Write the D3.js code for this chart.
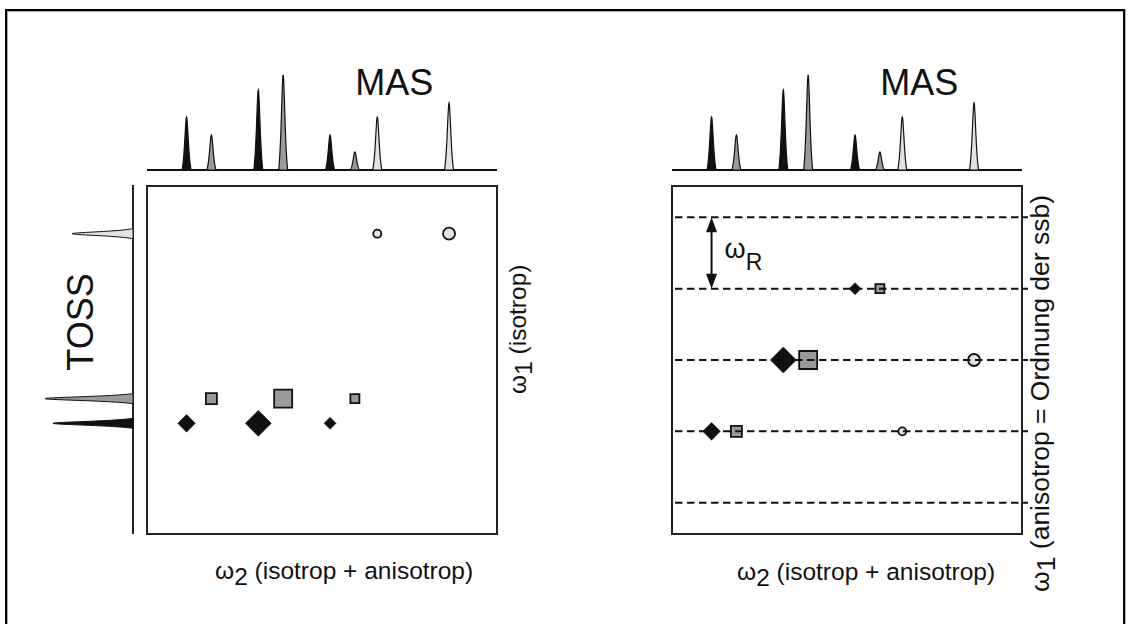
<!DOCTYPE html>
<html>
<head>
<meta charset="utf-8">
<script src="https://cdn.jsdelivr.net/npm/d3@7"></script>
<style>
  body { margin: 0; background: #fff; }
  text { font-family: "Liberation Sans", Arial, sans-serif; fill: #111; }
</style>
</head>
<body>
<svg id="vis" width="1130" height="624"></svg>
<script>
// sites: A (black diamond), B (grey square), C (light circle)
var sites = ["A", "B", "C"];
var isoShift = [31.8, 38.9, 86.3];        // isotropic shift, omega units
var spinRate = 20.5;                       // omega_R, same units
var tossIntensity = [80, 88, 61];          // TOSS (isotropic only) spectrum

// MAS spectrum: centre band + spinning sidebands
var peakSite = ["A", "A", "A", "B", "B", "B", "C", "C"];
var peakOrder = [-1, 0, 1, -1, 0, 1, -1, 0];
var masIntensity = [53, 80, 35, 35, 95, 18, 53, 67];

var ssbOrders = [-2, -1, 0, 1, 2];

var siteStyle = {
    A: { shape: "diamond", fill: "#111", rRange: [6, 13] },
    B: { shape: "square", fill: "#9a9a9a", rRange: [4.5, 9] },
    C: { shape: "circle", fill: "#e2e2e2", rRange: [4, 6] }
};

var peaks = masIntensity.map(function (v, i) {
    var s = sites.indexOf(peakSite[i]);
    return { site: peakSite[i], order: peakOrder[i], value: v, pos: isoShift[s] + peakOrder[i] * spinRate };
});

var svg = d3.select("#vis");

// outer frame
svg.append("rect")
    .attr("x", 7).attr("y", 11).attr("width", 1118).attr("height", 640)
    .attr("fill", "none").attr("stroke", "#aaa").attr("stroke-width", 2);
svg.append("rect")
    .attr("x", 6).attr("y", 10).attr("width", 1118).attr("height", 640)
    .attr("fill", "none").attr("stroke", "#000").attr("stroke-width", 2);

// marker size per site, from its own intensities
sites.forEach(function (s) {
    var vals = peaks.filter(function (p) { return p.site === s; }).map(function (p) { return p.value; });
    siteStyle[s].r = d3.scaleLinear().domain(d3.extent(vals)).range(siteStyle[s].rRange);
});

function markerPath(shape, r) {
    if (shape === "diamond") return "M0," + -r + "L" + r + ",0L0," + r + "L" + -r + ",0Z";
    if (shape === "square") return "M" + -r + "," + -r + "H" + r + "V" + r + "H" + -r + "Z";
    return d3.symbol(d3.symbolCircle, Math.PI * r * r)();
}

// narrow spike with slightly concave flanks, sampled across its base
function spikePoints(center, halfBase) {
    var g = halfBase / 1.8, pts = [];
    var tail = g * g / (g * g + halfBase * halfBase);
    for (var dx = -halfBase; dx <= halfBase + 0.001; dx += halfBase / 20) {
        var f = (g * g / (g * g + dx * dx) - tail) / (1 - tail);
        pts.push([center + dx, f]);
    }
    return pts;
}

var mas = d3.scaleLinear().domain([0, 100]).range([170, 70]);

function drawMas(g, x) {
    g.append("line")
        .attr("x1", x.range()[0]).attr("x2", x.range()[1])
        .attr("y1", mas(0)).attr("y2", mas(0))
        .attr("stroke", "#111").attr("stroke-width", 2);
    var area = d3.area().x(function (d) { return d[0]; }).y0(mas(0));
    g.selectAll("path.peak").data(peaks).join("path")
        .attr("class", "peak")
        .attr("d", function (d) {
            return area.y1(function (p) { return mas(p[1] * d.value); })(spikePoints(x(d.pos), 4.5));
        })
        .attr("fill", function (d) { return siteStyle[d.site].fill; })
        .attr("stroke", "#111").attr("stroke-width", 1.2);
    g.append("text")
        .attr("x", x(59.5)).attr("y", 95)
        .attr("font-size", 36)
        .text("MAS");
}

function drawBox(g, x, y) {
    g.append("rect")
        .attr("x", x.range()[0]).attr("y", y.range()[1])
        .attr("width", x.range()[1] - x.range()[0])
        .attr("height", y.range()[0] - y.range()[1])
        .attr("fill", "none").attr("stroke", "#222").attr("stroke-width", 2);
}

function drawMarkers(g, data, x, yOf) {
    g.selectAll("path.mk").data(data).join("path")
        .attr("class", "mk")
        .attr("transform", function (d) { return "translate(" + x(d.pos) + "," + yOf(d) + ")"; })
        .attr("d", function (d) { var st = siteStyle[d.site]; return markerPath(st.shape, st.r(d.value)); })
        .attr("fill", function (d) { return siteStyle[d.site].fill; })
        .attr("stroke", "#111")
        .attr("stroke-width", function (d) { return d.site === "A" ? 0.5 : 1.8; });
}

function omegaLabel(g, x, y, sub, rest, rotate, size) {
    var t = g.append("text")
        .attr("font-size", size)
        .attr("transform", "translate(" + x + "," + y + ")" + (rotate ? " rotate(-90)" : ""));
    t.append("tspan").text("\u03c9");
    t.append("tspan").attr("dy", 6).text(sub);
    t.append("tspan").attr("dy", -6).text(" " + rest);
    return t;
}

// ---------- left: 2D TOSS vs MAS ----------
var xL = d3.scaleLinear().domain([0, 100]).range([147, 497]);
var yL = d3.scaleLinear().domain([0, 100]).range([534, 186]);
var left = svg.append("g");

drawMas(left, xL);
drawBox(left, xL, yL);

// TOSS projection on the left
var toss = d3.scaleLinear().domain([0, 100]).range([133, 33]);
left.append("line")
    .attr("x1", toss(0)).attr("x2", toss(0))
    .attr("y1", yL.range()[1] - 1).attr("y2", yL.range()[0])
    .attr("stroke", "#222").attr("stroke-width", 2);
var hArea = d3.area().y(function (d) { return d[0]; }).x0(toss(0));
left.selectAll("path.toss").data(sites).join("path")
    .attr("class", "toss")
    .attr("d", function (s, i) {
        return hArea.x1(function (p) { return toss(p[1] * tossIntensity[i]); })(spikePoints(yL(isoShift[i]), 5));
    })
    .attr("fill", function (s) { return siteStyle[s].fill; })
    .attr("stroke", "#111").attr("stroke-width", 1);
left.append("text")
    .attr("transform", "translate(93,322) rotate(-90)")
    .attr("text-anchor", "middle")
    .attr("font-size", 36)
    .text("TOSS");

drawMarkers(left, peaks, xL, function (d) { return yL(isoShift[sites.indexOf(d.site)]); });

omegaLabel(left, 215, 579, "2", "(isotrop + anisotrop)", false, 24.5);
omegaLabel(left, 526, 394, "1", "(isotrop)", true, 24.5);

// ---------- right: 2D sideband order vs MAS ----------
var xR = d3.scaleLinear().domain([0, 100]).range([672, 1022]);
var yR = d3.scaleLinear().domain([-50, 50]).range([534, 186]);
var right = svg.append("g");

drawMas(right, xR);
drawBox(right, xR, yR);
drawMarkers(right, peaks, xR, function (d) { return yR(d.order * spinRate); });

right.selectAll("line.ssb").data(ssbOrders).join("line")
    .attr("class", "ssb")
    .attr("x1", xR.range()[0] + 3).attr("x2", xR.range()[1] + 6)
    .attr("y1", function (o) { return yR(o * spinRate); })
    .attr("y2", function (o) { return yR(o * spinRate); })
    .attr("stroke", "#111").attr("stroke-width", 2)
    .attr("stroke-dasharray", "7.5,4.5");

// omega_R arrow between two sideband rows
var ax = xR(isoShift[0] - spinRate),
    ay1 = yR(2 * spinRate), ay2 = yR(spinRate);
right.append("line")
    .attr("x1", ax).attr("x2", ax).attr("y1", ay1 + 10).attr("y2", ay2 - 10)
    .attr("stroke", "#111").attr("stroke-width", 2);
right.append("path")
    .attr("d", "M" + ax + "," + ay1 + "l-5.5,15h11Z M" + ax + "," + ay2 + "l-5.5,-15h11Z")
    .attr("fill", "#111");
var wr = right.append("text").attr("x", ax + 13).attr("y", 258).attr("font-size", 27);
wr.append("tspan").text("\u03c9");
wr.append("tspan").attr("dy", 12).attr("font-size", 23).text("R");

omegaLabel(right, 737, 580, "2", "(isotrop + anisotrop)", false, 24.5);
omegaLabel(right, 1049, 592, "1", "(anisotrop = Ordnung der ssb)", true, 26.5);
</script>
</body>
</html>
